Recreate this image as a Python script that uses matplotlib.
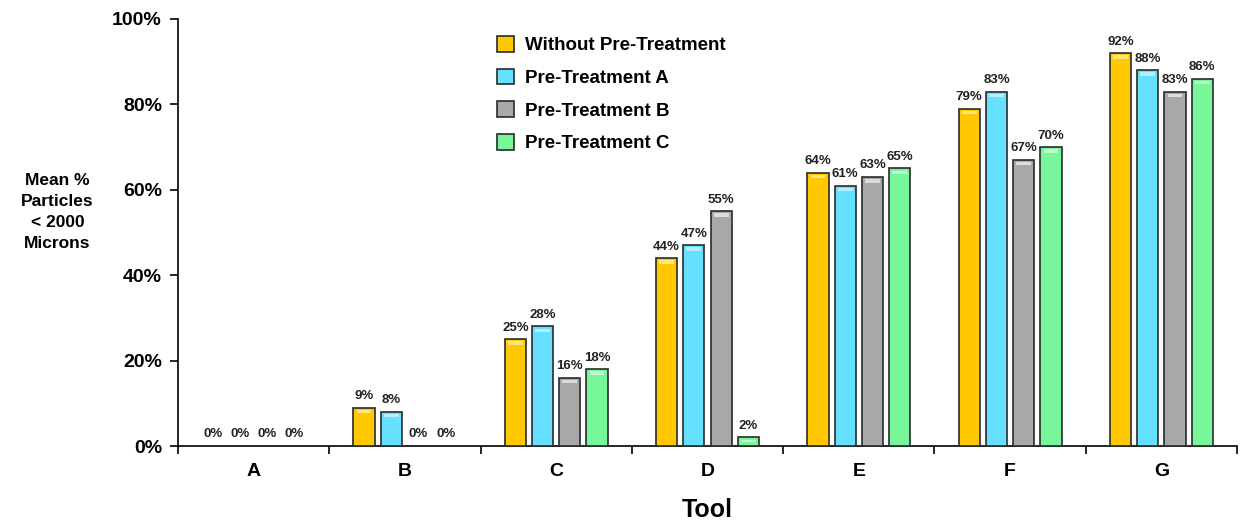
import matplotlib
matplotlib.use("Agg")
import matplotlib.pyplot as plt
import numpy as np

plt.rcParams['font.family'] = ['Liberation Sans', 'DejaVu Sans']
plt.rcParams['font.weight'] = 'bold'

tools = ["A", "B", "C", "D", "E", "F", "G"]
series_names = ["Without Pre-Treatment", "Pre-Treatment A", "Pre-Treatment B", "Pre-Treatment C"]
without_pt = [0, 9, 25, 44, 64, 79, 92]
pt_a = [0, 8, 28, 47, 61, 83, 88]
pt_b = [0, 0, 16, 55, 63, 67, 83]
pt_c = [0, 0, 18, 2, 65, 70, 86]
yticks = [0, 20, 40, 60, 80, 100]

colors = ["#FFC800", "#66E0FF", "#A8A8A8", "#77F79A"]
highlights = ["#FFE680", "#B3F0FF", "#DCDCDC", "#BFFBD0"]
series = [without_pt, pt_a, pt_b, pt_c]

fig = plt.figure(figsize=(12.41, 5.2), dpi=100)
ax = fig.add_axes([0.1434, 0.1423, 0.8534, 0.8212])

x = np.arange(len(tools))
width = 0.14
offsets = [-0.27, -0.09, 0.09, 0.27]
for vals, col, hl, off, name in zip(series, colors, highlights, offsets, series_names):
    bars = ax.bar(x + off, vals, width, color=col, edgecolor="#2a2a2a", linewidth=1.2,
                  label=name, zorder=3)
    for b, v in zip(bars, vals):
        if v > 0:
            hh = min(0.8, v * 0.3)
            ax.bar(b.get_x() + b.get_width() / 2, hh, width * 0.7, bottom=v - hh - 0.5,
                   color=hl, edgecolor="none", zorder=3.5)
        ax.text(b.get_x() + b.get_width() / 2, v + 1.3, f"{v}%", ha="center", va="bottom",
                fontsize=9.5, fontweight="bold", color="#222222", zorder=4)

ax.set_xlim(-0.5, len(tools) - 0.5)
ax.set_ylim(0, 100)
ax.set_yticks(yticks)
ax.set_yticklabels([f"{t}%" for t in yticks], fontsize=14, fontweight="bold")
ax.set_xticks(x)
ax.set_xticklabels(tools, fontsize=14, fontweight="bold")
ax.tick_params(axis="x", which="major", length=0, pad=12)
ax.set_xticks(np.arange(-0.5, len(tools)), minor=True)
ax.tick_params(axis="x", which="minor", length=6, width=1.2, direction="out")
ax.tick_params(axis="y", length=6, width=1.2, direction="out", pad=5.5)
for s in ["top", "right"]:
    ax.spines[s].set_visible(False)
for s in ["left", "bottom"]:
    ax.spines[s].set_linewidth(1.2)

ax.set_xlabel("Tool", fontsize=18, fontweight="bold", labelpad=13)
fig.text(0.0463, 0.592, "Mean %\nParticles\n< 2000\nMicrons", ha="center", va="center",
         fontsize=12.5, fontweight="bold", linespacing=1.5)

leg = ax.legend(loc="upper left", bbox_to_anchor=(497 / 1241, 1 - 36 / 520),
                bbox_transform=fig.transFigure, frameon=False, fontsize=13.5,
                handlelength=0.9, handleheight=0.9, labelspacing=0.77, handletextpad=0.6,
                borderpad=0, borderaxespad=0)
for t in leg.get_texts():
    t.set_fontweight("bold")
for h in leg.legend_handles:
    h.set_linewidth(1.2)

fig.savefig("out.png", dpi=100)
